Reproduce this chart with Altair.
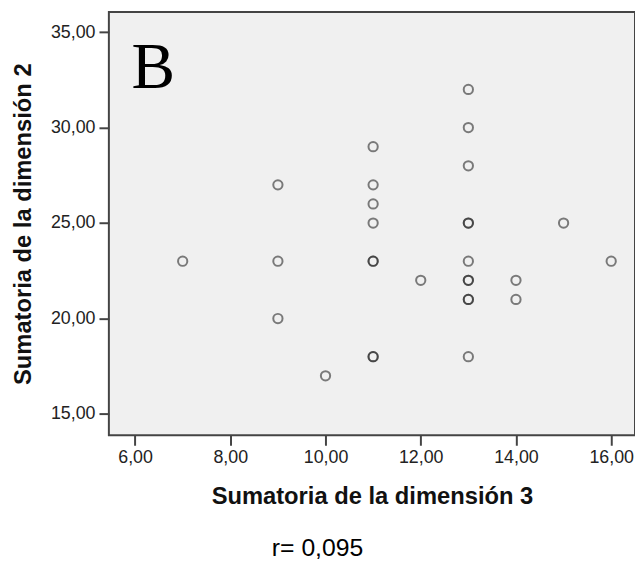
import altair as alt
import pandas as pd

# Data
dim3 = [7,
        9, 9, 9,
        10,
        11, 11, 11, 11, 11, 11, 11, 11,
        12,
        13, 13, 13, 13, 13, 13, 13, 13, 13, 13, 13,
        14, 14,
        15,
        16]
dim2 = [23,
        27, 23, 20,
        17,
        29, 27, 26, 25, 23, 23, 18, 18,
        22,
        32, 30, 28, 25, 25, 23, 22, 22, 21, 21, 18,
        22, 21,
        25,
        23]

x_ticks = [6, 8, 10, 12, 14, 16]
y_ticks = [15, 20, 25, 30, 35]

df = pd.DataFrame({"d3": dim3, "d2": dim2})

label_expr = "replace(format(datum.value, '.2f'), '.', ',')"
FONT = "Liberation Sans"

points = alt.Chart(df).mark_point(
    shape="circle", filled=False, size=88, stroke="#222", strokeWidth=2,
    strokeOpacity=0.82
).encode(
    x=alt.X("d3:Q", title="Sumatoria de la dimensión 3",
            scale=alt.Scale(domain=[5.45, 16.5], nice=False, zero=False),
            axis=alt.Axis(values=x_ticks, labelExpr=label_expr, grid=False,
                          domain=False, tickSize=10, tickWidth=2, tickColor="#444",
                          labelPadding=3, labelFontSize=18, labelFont=FONT,
                          labelColor="#222", titleFont=FONT, titleFontSize=24,
                          titleFontWeight="bold", titleColor="#111",
                          titlePadding=19)),
    y=alt.Y("d2:Q", title="Sumatoria de la dimensión 2",
            scale=alt.Scale(domain=[13.88, 36.05], nice=False, zero=False),
            axis=alt.Axis(values=y_ticks, labelExpr=label_expr, grid=False,
                          domain=False, tickSize=10, tickWidth=2, tickColor="#444",
                          labelPadding=4, labelFontSize=18, labelFont=FONT,
                          labelColor="#222", titleFont=FONT, titleFontSize=24,
                          titleFontWeight="bold", titleColor="#111",
                          titlePadding=15)),
)

letter = alt.Chart(pd.DataFrame({"t": ["B"]})).mark_text(
    font="Liberation Serif", fontSize=66, align="left", baseline="alphabetic",
    color="#000"
).encode(x=alt.value(23), y=alt.value(77), text="t:N")

chart = alt.layer(points, letter).properties(
    width=532, height=428,
    background="white",
    autosize=alt.AutoSizeParams(type="none"),
    padding={"left": 102, "top": 1, "right": 0, "bottom": 132},
    title=alt.TitleParams(text="r= 0,095", orient="bottom", anchor="middle",
                          dx=-55, offset=28, font=FONT, fontSize=25,
                          fontWeight="normal", color="#000"),
).configure_view(
    fill="#f0f0f0", stroke="#444", strokeWidth=2
)

chart.save("out.html", embed_options={"renderer": "svg", "actions": False})
